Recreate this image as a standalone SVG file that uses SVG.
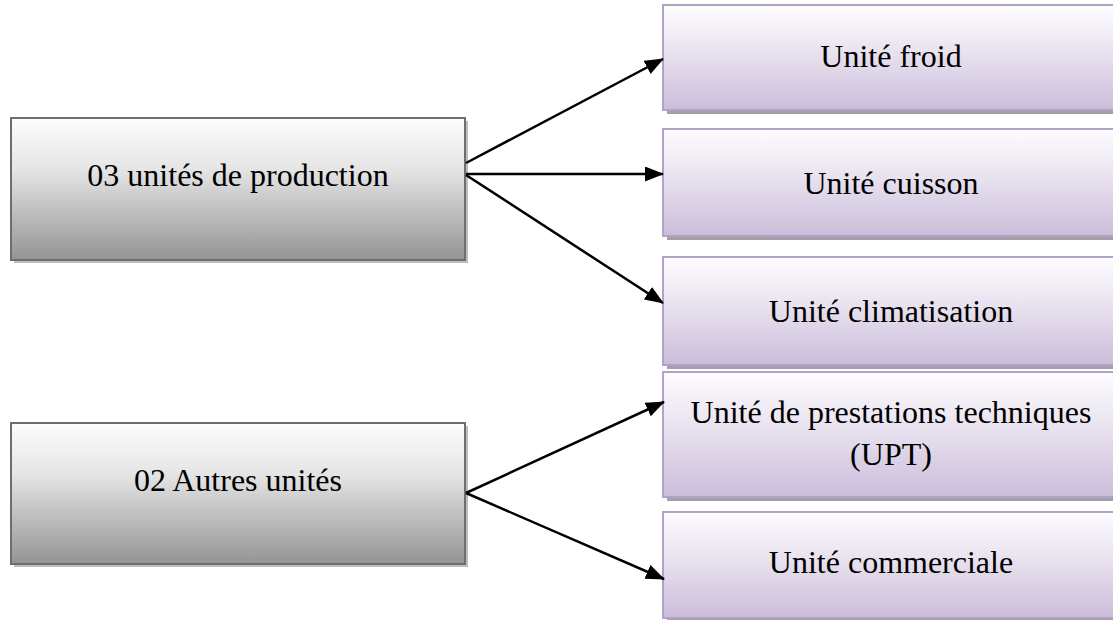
<svg xmlns="http://www.w3.org/2000/svg" width="1113" height="620" viewBox="0 0 1113 620">
<defs>
<linearGradient id="gGray" x1="0" y1="0" x2="0" y2="1">
<stop offset="0" stop-color="#fdfdfd"/>
<stop offset="0.35" stop-color="#e6e6e6"/>
<stop offset="1" stop-color="#949494"/>
</linearGradient>
<linearGradient id="gPurple" x1="0" y1="0" x2="0" y2="1">
<stop offset="0" stop-color="#fdfcfe"/>
<stop offset="0.4" stop-color="#ebe5f1"/>
<stop offset="1" stop-color="#cbbdda"/>
</linearGradient>
<marker id="ah" markerUnits="userSpaceOnUse" markerWidth="20" markerHeight="16" refX="18" refY="7.5" orient="auto">
<path d="M0,0 L19,7.5 L0,15 z" fill="#000"/>
</marker>
<style>
.l { fill: url(#gGray); stroke: #6e6e6e; stroke-width: 2; }
.ls { fill: #bdbdbd; }
.r { fill: url(#gPurple); stroke: #b3a2c7; stroke-width: 2; }
.rs { fill: #a39ea8; }
.t { font-family: "Liberation Serif", "Times New Roman", serif; font-size: 32px; fill: #000; text-anchor: middle; }
.c { stroke: #000; stroke-width: 2.5; fill: none; marker-end: url(#ah); }
</style>
</defs>
<rect width="1113" height="620" fill="#fff"/>

<g id="prod">
<rect class="ls" x="14" y="121" width="454" height="142"/>
<rect class="l" x="11" y="118" width="454" height="142"/>
<text class="t" x="238" y="186">03 unités de production</text>
</g>

<g id="autres">
<rect class="ls" x="14" y="426" width="454" height="141"/>
<rect class="l" x="11" y="423" width="454" height="141"/>
<text class="t" x="238" y="491">02 Autres unités</text>
</g>

<g id="froid">
<rect class="rs" x="667" y="9" width="460" height="105"/>
<rect class="r" x="663" y="5" width="460" height="105"/>
<text class="t" x="891" y="67">Unité froid</text>
</g>

<g id="cuisson">
<rect class="rs" x="667" y="133" width="460" height="107"/>
<rect class="r" x="663" y="129" width="460" height="107"/>
<text class="t" x="891" y="194">Unité cuisson</text>
</g>

<g id="clim">
<rect class="rs" x="667" y="261" width="460" height="108"/>
<rect class="r" x="663" y="257" width="460" height="108"/>
<text class="t" x="891" y="322">Unité climatisation</text>
</g>

<g id="upt">
<rect class="rs" x="667" y="376" width="460" height="125"/>
<rect class="r" x="663" y="372" width="460" height="125"/>
<text class="t" x="891" y="423">Unité de prestations techniques</text>
<text class="t" x="891" y="465">(UPT)</text>
</g>

<g id="commerciale">
<rect class="rs" x="667" y="516" width="460" height="106"/>
<rect class="r" x="663" y="512" width="460" height="106"/>
<text class="t" x="891" y="573">Unité commerciale</text>
</g>

<g id="connectors">
<line class="c" x1="466" y1="163" x2="663" y2="59"/>
<line class="c" x1="466" y1="174" x2="663" y2="174"/>
<line class="c" x1="466" y1="175" x2="663" y2="303"/>
<line class="c" x1="466" y1="493" x2="664" y2="402"/>
<line class="c" x1="466" y1="493" x2="664" y2="579"/>
</g>
</svg>
